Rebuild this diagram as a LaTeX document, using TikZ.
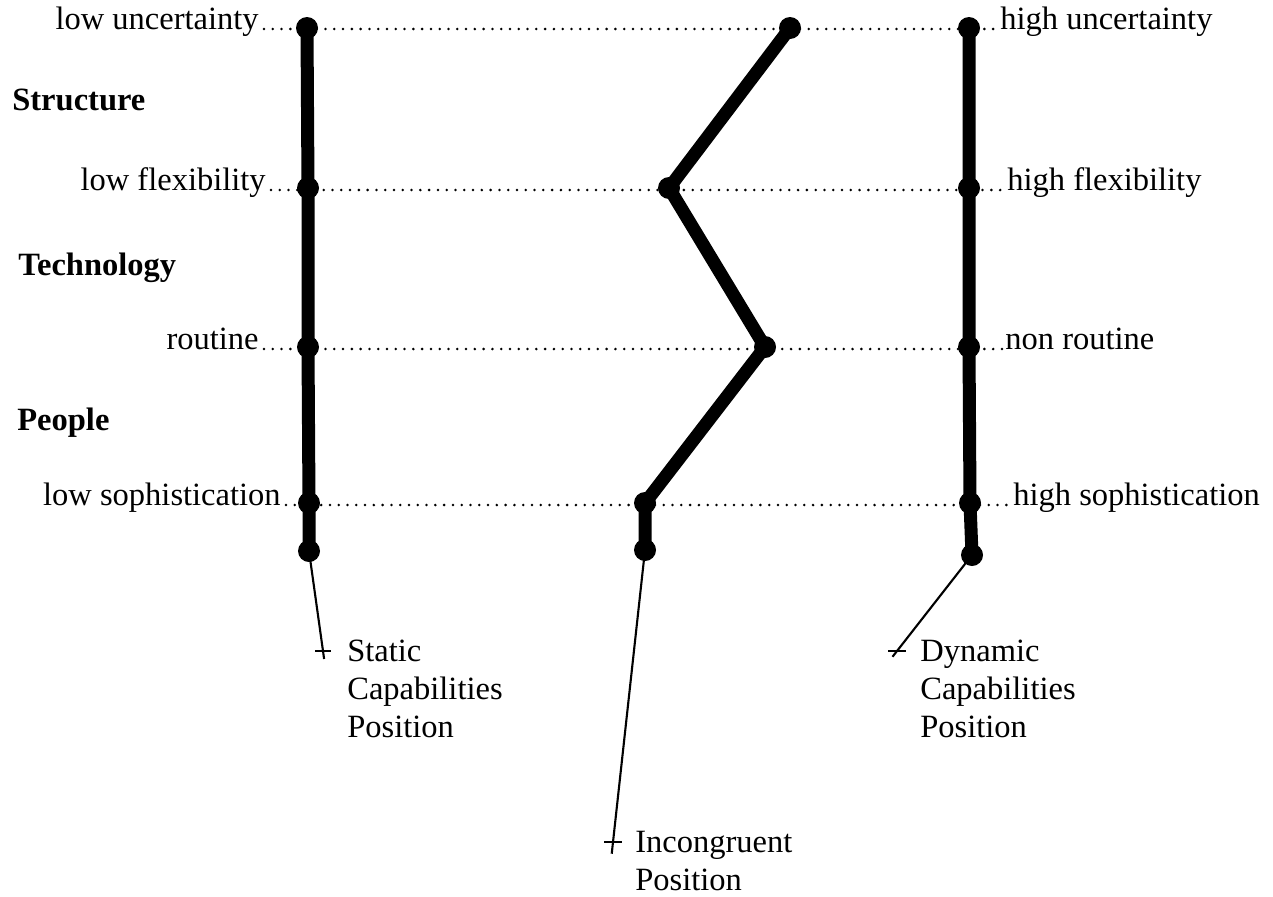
\documentclass[tikz,border=0pt]{standalone}
\usepackage{fontspec}
\setmainfont{Liberation Serif}
\usepackage{tikz}
\usetikzlibrary{positioning, calc}
\definecolor{mydark}{RGB}{0,0,0}
\tikzset{
  lbl/.style={inner sep=0pt, font=\fontsize{18.5}{21.6}\selectfont, color=mydark},
  leftlbl/.style={lbl, anchor=base east},
  rightlbl/.style={lbl, anchor=base west},
  headlbl/.style={lbl, anchor=base west, font=\fontsize{18.5}{21.6}\selectfont\bfseries},
  poslbl/.style={lbl, anchor=base west, align=left},
  vtx/.style={circle, fill=mydark, minimum size=0.44cm, inner sep=0pt},
  profile/.style={line width=7.4pt, color=mydark, line join=round, line cap=round},
  leader/.style={line width=1.6pt, color=mydark, line cap=round, dash pattern=on 0pt off 5pt},
  pointer/.style={line width=1.2pt, color=mydark},
  tick/.style={line width=1.2pt, color=mydark}
}
\begin{document}
\begin{tikzpicture}[x=0.02cm, y=-0.02cm]
  \useasboundingbox (0,0) rectangle (1273,896);
  % Dimension labels
  \node[leftlbl] (lu) at (259,29) {low uncertainty};
  \node[leftlbl] (lf) at (266,190) {low flexibility};
  \node[leftlbl] (lr) at (259,349) {routine};
  \node[leftlbl] (ls) at (281,505) {low sophistication};
  \node[rightlbl] (hu) at (1000,29) {high uncertainty};
  \node[rightlbl] (hf) at (1007,190) {high flexibility};
  \node[rightlbl] (hr) at (1005,349) {non routine};
  \node[rightlbl] (hs) at (1013,505) {high sophistication};
  \node[headlbl] (st) at (12,110) {Structure};
  \node[headlbl] (te) at (18,275) {Technology};
  \node[headlbl] (pe) at (17,430) {People};
  % Leader lines
  \draw[leader] (lu.base east) ++(5,0) -- ($(hu.base west)+(-3,0)$);
  \draw[leader] (lf.base east) ++(5,0) -- ($(hf.base west)+(-3,0)$);
  \draw[leader] (lr.base east) ++(5,0) -- ($(hr.base west)+(-3,0)$);
  \draw[leader] (ls.base east) ++(5,0) -- ($(hs.base west)+(-3,0)$);
  % Static profile
  \node[vtx] (s1) at (307,28) {};
  \node[vtx] (s2) at (308,188) {};
  \node[vtx] (s3) at (308,347) {};
  \node[vtx] (s4) at (309,503) {};
  \node[vtx] (s5) at (309,551) {};
  \draw[profile] (s1.center) -- (s2.center) -- (s3.center) -- (s4.center) -- (s5.center);
  % Incongruent profile
  \node[vtx] (m1) at (790,28) {};
  \node[vtx] (m2) at (669,188) {};
  \node[vtx] (m3) at (765,347) {};
  \node[vtx] (m4) at (645,503) {};
  \node[vtx] (m5) at (645,550) {};
  \draw[profile] (m1.center) -- (m2.center) -- (m3.center) -- (m4.center) -- (m5.center);
  % Dynamic profile
  \node[vtx] (d1) at (969,28) {};
  \node[vtx] (d2) at (969,188) {};
  \node[vtx] (d3) at (969,347) {};
  \node[vtx] (d4) at (970,503) {};
  \node[vtx] (d5) at (972,555) {};
  \draw[profile] (d1.center) -- (d2.center) -- (d3.center) -- (d4.center) -- (d5.center);
  % Positions
  \coordinate (sp) at (323,651);
  \coordinate (mp) at (613,842);
  \coordinate (dp) at (897,651);
  \draw[pointer] (s5.center) -- ($(s5.center)!1.08!(sp)$);
  \draw[pointer] (m5.center) -- ($(m5.center)!1.04!(mp)$);
  \draw[pointer] (d5.center) -- ($(d5.center)!1.06!(dp)$);
  \draw[tick] ($(sp)+(-8,0)$) -- ($(sp)+(8,0)$);
  \draw[tick] ($(mp)+(-9,0)$) -- ($(mp)+(9,0)$);
  \draw[tick] ($(dp)+(-9,0)$) -- ($(dp)+(9,0)$);
  \node[poslbl] (sl) at (347,737) {Static\\Capabilities\\Position};
  \node[poslbl] (dl) at (920,737) {Dynamic\\Capabilities\\Position};
  \node[poslbl] (ml) at (635,890) {Incongruent\\Position};
\end{tikzpicture}
\end{document}
